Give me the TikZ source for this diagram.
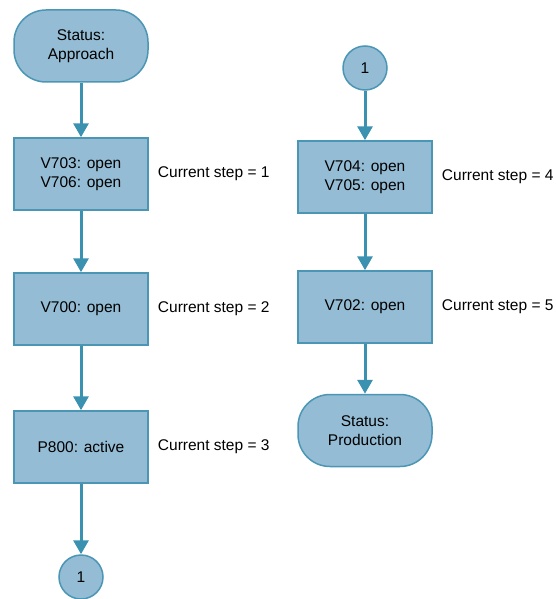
\documentclass[tikz,border=0pt]{standalone}
\usepackage{fontspec}
\setmainfont{Liberation Sans}
\usetikzlibrary{positioning}
\usetikzlibrary{arrows.meta}
\definecolor{stepfill}{RGB}{148,188,212}
\definecolor{stepline}{RGB}{74,150,180}
\definecolor{flowline}{RGB}{58,146,176}
\newcommand{\steptext}{\fontsize{15.5}{19}\selectfont}
\tikzset{
  stepbox/.style={rectangle,draw=stepline,fill=stepfill,line width=1.5pt,
                  minimum width=134pt,minimum height=72pt,inner sep=0pt,
                  align=center,font=\steptext},
  status/.style={stepbox,rounded corners=32pt},
  connector/.style={circle,draw=stepline,fill=stepfill,line width=1.5pt,
                    minimum size=44pt,inner sep=0pt,font=\steptext},
  flow/.style={>={Triangle[width=15pt,length=14pt]},line width=3pt,->,
               draw=flowline},
  steplabel/.style={inner sep=0pt,font=\steptext},
}

\begin{document}
\begin{tikzpicture}[x=1pt,y=1pt]
    \useasboundingbox (0,0) rectangle (556,-599);

    % Left column
    \node[status]    (app)                      at (81,-46) {Status:\\Approach};
    \node[stepbox]   (s1) [below=54.5pt of app] {V703: open\\V706: open};
    \node[stepbox]   (s2) [below=61.5pt of s1]  {V700: open};
    \node[stepbox]   (s3) [below=64.5pt of s2]  {P800: active};
    \node[connector] (c1) [below=70.5pt of s3]  {1};

    % Right column
    \node[connector] (c2)                       at (365,-68) {1};
    \node[stepbox]   (s4) [below=49.5pt of c2]  {V704: open\\V705: open};
    \node[stepbox]   (s5) [below=56.5pt of s4]  {V702: open};
    \node[status]    (prod) [below=50pt of s5]  {Status:\\Production};

    % Step labels
    \node[steplabel] (l1) [right=9pt of s1] {Current step = 1};
    \node[steplabel] (l2) [right=9pt of s2] {Current step = 2};
    \node[steplabel] (l3) [right=9pt of s3] {Current step = 3};
    \node[steplabel] (l4) [right=9pt of s4] {Current step = 4};
    \node[steplabel] (l5) [right=9pt of s5] {Current step = 5};

    % Flows
    \draw[flow] (app) -- (s1);
    \draw[flow] (s1) -- (s2);
    \draw[flow] (s2) -- (s3);
    \draw[flow] (s3) -- (c1);
    \draw[flow] (c2) -- (s4);
    \draw[flow] (s4) -- (s5);
    \draw[flow] (s5) -- (prod);
\end{tikzpicture}
\end{document}
